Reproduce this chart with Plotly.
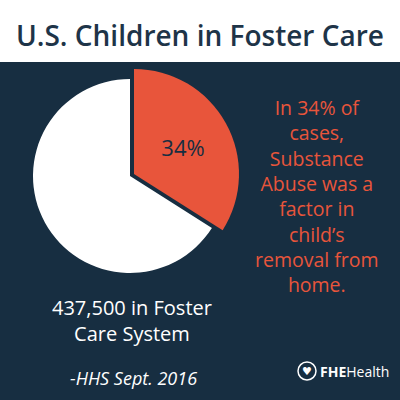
import plotly.graph_objects as go

labels = ["Substance abuse a factor", "Other"]
values = [34, 66]
title_text = "U.S. Children in Foster Care"
side_lines = ["In 34% of", "cases,", "Substance", "Abuse was a", "factor in", "child’s", "removal from", "home."]
total_lines = ["437,500 in Foster", "Care System"]
source_text = "-HHS Sept. 2016"

NAVY = "#172e41"
RED = "#e8553b"
FONT = "Open Sans"

fig = go.Figure()

# white (larger share) slice
fig.add_trace(go.Pie(
    labels=labels, values=values, sort=False, direction="clockwise", rotation=0,
    marker=dict(colors=["rgba(0,0,0,0)", "#ffffff"], line=dict(width=0)),
    textinfo="none", hoverinfo="skip", showlegend=False,
    domain=dict(x=[33/400, 227/400], y=[(400-273)/400, (400-79)/400]),
))
# red exploded slice
fig.add_trace(go.Pie(
    labels=labels, values=values, sort=False, direction="clockwise", rotation=0,
    marker=dict(colors=[RED, "rgba(0,0,0,0)"], line=dict(width=0)),
    texttemplate=["%{percent:.0%}", ""], textposition="inside",
    insidetextfont=dict(family=FONT, size=22, color=NAVY),
    hoverinfo="skip", showlegend=False,
    domain=dict(x=[29/400, 239/400], y=[(400-279)/400, (400-69)/400]),
))

shapes = [
    dict(type="rect", xref="paper", yref="paper", x0=0, x1=1, y0=0, y1=(400-62)/400,
         fillcolor=NAVY, line=dict(width=0), layer="below"),
    dict(type="circle", xref="paper", yref="paper", x0=298/400, x1=316/400,
         y0=(400-380)/400, y1=(400-362)/400, line=dict(color="white", width=1.5)),
]

ann = []
ann.append(dict(text=title_text, x=0.5, y=(400-35)/400, xref="paper", yref="paper",
                showarrow=False, font=dict(family=FONT, size=28, color="#1e3448", weight=600),
                xanchor="center", yanchor="middle"))
ann.append(dict(text="<br>".join(side_lines), x=317/400, y=(400-196)/400, xref="paper", yref="paper",
                showarrow=False, font=dict(family=FONT, size=19.5, color=RED),
                align="center", xanchor="center", yanchor="middle"))
ann.append(dict(text="<br>".join(total_lines), x=132/400, y=(400-320)/400, xref="paper", yref="paper",
                showarrow=False, font=dict(family=FONT, size=20, color="white"),
                align="center", xanchor="center", yanchor="middle"))
ann.append(dict(text="<i>" + source_text + "</i>", x=133/400, y=(400-378)/400, xref="paper", yref="paper",
                showarrow=False, font=dict(family=FONT, size=18, color="white"),
                xanchor="center", yanchor="middle"))
ann.append(dict(text="<b>FHE</b>Health", x=318/400, y=(400-371)/400, xref="paper", yref="paper",
                showarrow=False, font=dict(family=FONT, size=14, color="white"),
                xanchor="left", yanchor="middle"))
ann.append(dict(text="♥", x=307/400, y=(400-371)/400, xref="paper", yref="paper",
                showarrow=False, font=dict(family="DejaVu Sans", size=11, color="white"),
                xanchor="center", yanchor="middle"))

fig.update_layout(
    width=400, height=400, margin=dict(l=0, r=0, t=0, b=0),
    paper_bgcolor="white", plot_bgcolor="white",
    shapes=shapes, annotations=ann,
)

fig.write_html("out.html", config={"displayModeBar": False},
               post_script="document.body.style.margin='0';document.body.style.overflow='hidden';")
